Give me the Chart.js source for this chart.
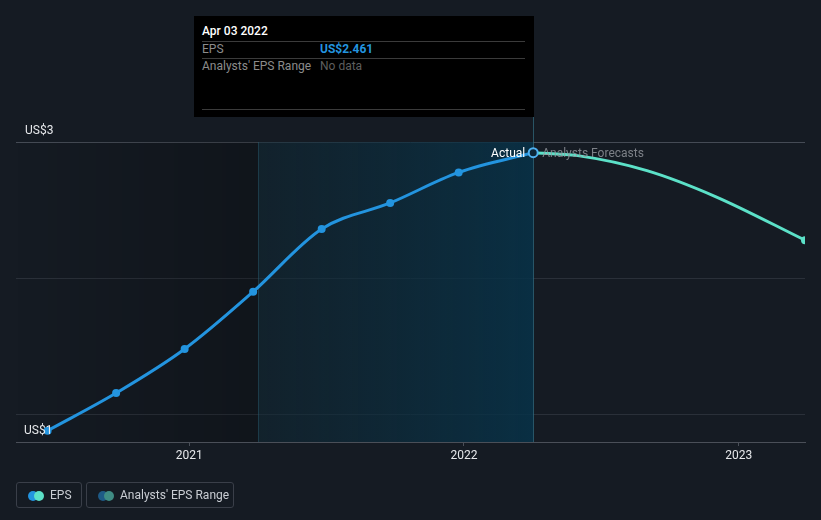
<!DOCTYPE html>
<html>
<head>
<meta charset="utf-8">
<script src="https://cdn.jsdelivr.net/npm/chart.js@4"></script>
<style>
  html, body { margin: 0; padding: 0; background: #151b23; }
  body { width: 821px; height: 520px; position: relative; overflow: hidden; font-family: Roboto, "Open Sans", sans-serif; }
  #wrap { position: absolute; left: 0; top: 0; width: 821px; height: 520px; }
  .tip { position: absolute; left: 194px; top: 16px; width: 340px; height: 101px; background: #000; }
  .tip .t { position: absolute; left: 8px; top: 8px; color: #fff; font-size: 12px; font-weight: 500; }
  .tip .sep { position: absolute; left: 8px; width: 323px; height: 1px; background: #3b3b3b; }
  .tip .k { position: absolute; left: 8px; color: #8c8c8c; font-size: 12px; }
  .tip .v { position: absolute; left: 126px; font-size: 12px; }
  .leg { position: absolute; top: 482px; height: 26px; border: 1px solid #3a3f49; border-radius: 3px; box-sizing: border-box; color: #c9cdd3; font-size: 12px; }
  .leg .d { position: absolute; top: 8px; width: 10px; height: 10px; border-radius: 50%; }
  .leg span.l { position: absolute; top: 5px; }
</style>
</head>
<body>
<div id="wrap"><canvas id="eps-chart" width="821" height="520"></canvas></div>

<div class="tip">
  <div class="t">Apr 03 2022</div>
  <div class="sep" style="top:25px"></div>
  <div class="k" style="top:26px">EPS</div>
  <div class="v" style="top:26px;color:#2394df;font-weight:700">US$2.461</div>
  <div class="sep" style="top:42px"></div>
  <div class="k" style="top:43px">Analysts' EPS Range</div>
  <div class="v" style="top:43px;color:#5e5e5e">No data</div>
  <div class="sep" style="top:93px"></div>
</div>

<div class="leg" style="left:16px;width:66px">
  <div class="d" style="left:11px;background:#2394df"></div>
  <div class="d" style="left:17px;background:#5ce1c8"></div>
  <span class="l" style="left:33px">EPS</span>
</div>
<div class="leg" style="left:86px;width:148px">
  <div class="d" style="left:11px;background:#1e5a86"></div>
  <div class="d" style="left:17px;background:#3f8c84"></div>
  <span class="l" style="left:33px">Analysts' EPS Range</span>
</div>

<script>
// Actual EPS (quarter ends)
const actualDates = ['2020-06-27', '2020-09-26', '2020-12-26', '2021-03-27', '2021-06-26', '2021-09-25', '2021-12-25', '2022-04-03'];
const actualEps = [0.883, 1.159, 1.482, 1.902, 2.362, 2.553, 2.777, 2.922];

// Analysts' forecast
const forecastDates = ['2022-04-03', '2022-06-01', '2022-09-01', '2022-12-01', '2023-03-30'];
const forecastEps = [2.922, 2.90, 2.79, 2.60, 2.28];

const yearTicks = [2021, 2022, 2023];
const yTickValues = [1, 2, 3];

const pastStart = '2021-04-03';
const pastEnd = '2022-04-03';

const ts = d => Date.parse(d + 'T00:00:00Z');
const toPoints = (dates, vals) => dates.map((d, i) => ({ x: ts(d), y: vals[i] }));

// overlays: shaded past year, labels
const overlayPlugin = {
  id: 'overlay',
  beforeDatasetsDraw(chart) {
    const { ctx, chartArea: a, scales: { x } } = chart;
    const x0 = x.getPixelForValue(ts(pastStart));
    const x1 = x.getPixelForValue(ts(pastEnd));
    ctx.save();
    let g = ctx.createLinearGradient(a.left, 0, x0, 0);
    g.addColorStop(0, 'rgba(0,0,0,0)');
    g.addColorStop(1, 'rgba(0,0,0,0.22)');
    ctx.fillStyle = g;
    ctx.fillRect(a.left, a.top, x0 - a.left, a.bottom - a.top);
    g = ctx.createLinearGradient(x0, 0, x1, 0);
    g.addColorStop(0, 'rgba(16,40,52,0.55)');
    g.addColorStop(1, 'rgba(8,50,72,0.88)');
    ctx.fillStyle = g;
    ctx.fillRect(x0, a.top, x1 - x0, a.bottom - a.top);
    ctx.strokeStyle = 'rgba(40,90,110,0.5)';
    ctx.lineWidth = 1;
    ctx.beginPath();
    ctx.moveTo(Math.round(x0) + 0.5, a.top);
    ctx.lineTo(Math.round(x0) + 0.5, a.bottom);
    ctx.stroke();
    ctx.strokeStyle = 'rgba(50,110,130,0.7)';
    ctx.beginPath();
    ctx.moveTo(Math.round(x1) + 0.5, 117);
    ctx.lineTo(Math.round(x1) + 0.5, a.bottom);
    ctx.stroke();
    ctx.restore();
  },
  afterDatasetsDraw(chart) {
    const { ctx, scales: { x, y } } = chart;
    ctx.save();
    ctx.font = '12px Roboto, sans-serif';
    ctx.textBaseline = 'middle';
    const px = x.getPixelForValue(ts(pastEnd));
    ctx.fillStyle = '#ffffff';
    ctx.textAlign = 'right';
    ctx.fillText('Actual', px - 8, 154);
    ctx.fillStyle = 'rgba(150,154,160,0.8)';
    ctx.textAlign = 'left';
    ctx.fillText('Analysts Forecasts', px + 9, 154);
    // y labels
    ctx.fillStyle = '#e6e8eb';
    ctx.fillText('US$3', 25, y.getPixelForValue(3) - 11);
    ctx.fillText('US$1', 24, y.getPixelForValue(1) + 16);
    ctx.restore();
  }
};

const lastIdx = actualDates.length - 1;

new Chart(document.getElementById('eps-chart'), {
  type: 'line',
  data: {
    datasets: [
      {
        label: 'EPS',
        data: toPoints(actualDates, actualEps),
        borderColor: '#2394df',
        borderWidth: 3,
        cubicInterpolationMode: 'monotone',
        pointRadius: actualDates.map((d, i) => i === lastIdx ? 4.5 : 4),
        pointBackgroundColor: actualDates.map((d, i) => i === lastIdx ? '#0d2536' : '#2394df'),
        pointBorderColor: actualDates.map((d, i) => i === lastIdx ? '#4fb0f0' : '#2394df'),
        pointBorderWidth: actualDates.map((d, i) => i === lastIdx ? 2 : 0),
        fill: false
      },
      {
        label: 'Forecast',
        data: toPoints(forecastDates, forecastEps),
        borderColor: '#5ce1c8',
        borderWidth: 3,
        cubicInterpolationMode: 'monotone',
        pointRadius: forecastDates.map((d, i) => i === forecastDates.length - 1 ? 4 : 0),
        pointBackgroundColor: '#5ce1c8',
        pointBorderWidth: 0,
        fill: false
      }
    ]
  },
  options: {
    responsive: false,
    animation: false,
    layout: { padding: { left: 16, right: 16, top: 142, bottom: 48 } },
    plugins: { legend: { display: false }, tooltip: { enabled: false } },
    scales: {
      x: {
        type: 'linear',
        min: ts('2020-05-16'),
        max: ts('2023-03-30'),
        afterBuildTicks: s => { s.ticks = yearTicks.map(yr => ({ value: ts(yr + '-01-01') })); },
        afterFit: s => { s.height = 30; },
        ticks: {
          color: '#e6e8eb',
          font: { family: 'Roboto', size: 12 },
          padding: 3,
          maxRotation: 0,
          callback: v => new Date(v).getUTCFullYear()
        },
        grid: { drawOnChartArea: false, tickLength: 4, color: '#4a4f58' },
        border: { display: true, color: '#4a4f58' }
      },
      y: {
        min: 0.8,
        max: 3,
        afterBuildTicks: s => { s.ticks = yTickValues.map(v => ({ value: v })); },
        afterFit: s => { s.width = 0; },
        ticks: { display: false },
        grid: {
          drawTicks: false,
          color: c => c.tick && c.tick.value === 3 ? '#454b55' : '#2a3039'
        },
        border: { display: false }
      }
    }
  },
  plugins: [overlayPlugin]
});
</script>
</body>
</html>
